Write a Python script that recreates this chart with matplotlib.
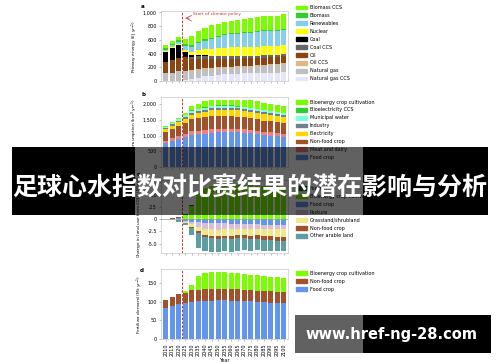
import numpy as np
import matplotlib
matplotlib.use("Agg")
from matplotlib import pyplot as plt
from matplotlib.patches import Rectangle, Patch
from matplotlib.ticker import FuncFormatter

years = list(range(2010, 2105, 5))

# -- panel a: primary energy (EJ/yr), bottom of stack first --
ng_ccs = [0, 0, 0, 10, 30, 50, 70, 80, 90, 95, 100, 105, 110, 110, 115, 115, 120, 120, 125]
natural_gas = [110, 120, 140, 130, 120, 110, 100, 95, 95, 95, 95, 95, 95, 100, 100, 110, 115, 120, 125]
oil_ccs = [0, 0, 0, 5, 10, 15, 15, 15, 15, 15, 15, 15, 15, 15, 15, 15, 15, 15, 15]
oil = [170, 190, 200, 200, 160, 150, 140, 130, 125, 120, 115, 110, 110, 105, 100, 100, 100, 95, 95]
coal_ccs = [0, 0, 0, 10, 30, 40, 45, 45, 45, 45, 45, 45, 40, 40, 40, 40, 35, 35, 35]
coal = [140, 170, 190, 70, 30, 10, 5, 0, 0, 0, 0, 0, 0, 0, 0, 0, 0, 0, 0]
nuclear = [15, 15, 15, 30, 40, 70, 90, 100, 110, 115, 120, 120, 125, 125, 125, 125, 125, 125, 125]
renewables = [20, 25, 30, 60, 80, 110, 120, 140, 160, 180, 190, 200, 205, 210, 215, 220, 225, 225, 230]
biomass = [20, 20, 25, 20, 20, 20, 20, 15, 15, 15, 15, 15, 15, 15, 15, 15, 15, 15, 15]
biomass_ccs = [50, 40, 40, 70, 140, 155, 165, 190, 170, 180, 180, 190, 195, 200, 205, 200, 195, 200, 210]

# -- panel b: water consumption (km3/yr) --
food_w = [750, 820, 880, 950, 1020, 1040, 1060, 1090, 1100, 1100, 1100, 1100, 1090, 1070, 1050, 1020, 1000, 980, 960]
meat_w = [90, 95, 100, 110, 120, 120, 120, 120, 120, 120, 120, 115, 115, 115, 110, 110, 110, 105, 105]
nonfood_w = [280, 310, 340, 350, 380, 390, 400, 410, 410, 400, 400, 390, 380, 370, 360, 350, 340, 340, 330]
electricity_w = [80, 90, 100, 120, 150, 170, 180, 190, 200, 200, 200, 200, 200, 200, 200, 200, 200, 200, 200]
industry_w = [50, 55, 60, 60, 60, 60, 60, 60, 60, 60, 60, 60, 60, 60, 60, 60, 60, 60, 60]
municipal_w = [40, 45, 50, 55, 60, 60, 60, 60, 60, 60, 60, 60, 60, 60, 60, 60, 60, 60, 60]
bioccs_w = [0, 0, 0, 10, 15, 20, 20, 20, 20, 20, 20, 20, 20, 20, 20, 20, 20, 20, 20]
bioenergy_w = [10, 10, 20, 60, 130, 150, 190, 170, 180, 190, 190, 205, 215, 235, 230, 220, 220, 225, 195]

# -- panel c: change in land use from 2010 --
food_l = [0, 0.1, 0.2, -0.4, -0.5, -0.6, -0.7, -0.7, -0.8, -0.8, -0.9, -0.9, -1.0, -1.0, -1.0, -1.1, -1.1, -1.2, -1.2]
pasture_l = [0, -0.05, -0.1, -0.1, -0.5, -1.0, -1.3, -1.4, -1.4, -1.3, -1.2, -1.1, -1.0, -1.0, -0.9, -0.9, -0.9, -0.9, -0.9]
grass_l = [0, -0.05, -0.1, -0.2, -0.6, -0.9, -1.2, -1.3, -1.3, -1.3, -1.3, -1.3, -1.3, -1.4, -1.4, -1.4, -1.5, -1.5, -1.5]
nonfood_l = [0, 0.15, 0.2, -0.1, -0.2, -0.3, -0.4, -0.5, -0.5, -0.5, -0.6, -0.6, -0.6, -0.7, -0.7, -0.8, -0.8, -0.9, -0.9]
other_l = [0, -0.1, -0.3, -0.4, -1.4, -3.0, -2.8, -2.7, -2.6, -2.6, -2.6, -2.5, -2.4, -2.3, -2.3, -2.2, -2.1, -2.0, -2.0]
bioenergy_l = [0, 0, 0, 0.9, 2.6, 5.3, 6.4, 6.8, 7.0, 7.0, 7.0, 7.0, 6.9, 6.9, 6.8, 6.8, 6.7, 6.7, 6.6]
forest_l = [0, 0, 0, 0.2, 0.3, 0.1, 0, 0, 0, 0, 0, 0, 0, 0, 0, 0, 0, 0, 0]

# -- panel d: fertilizer demand (Mt/yr) --
food_f = [83, 87.5, 94, 96, 100, 101, 102, 103, 104, 104, 103, 103, 102, 101, 100, 99, 98, 97, 96]
nonfood_f = [21, 24.5, 26, 27, 31, 31, 31, 31, 31, 31, 31, 30, 30, 30, 30, 30, 30, 30, 29]
bioenergy_f = [0, 0, 1, 6, 15, 38, 43, 46, 46, 45, 44, 43, 42, 42, 41, 40, 39, 39, 39]

FS = 3.5
YL = 3.1   # y label size, a bit smaller than ticks
x = np.arange(len(years))


def px_axes(fig, left, top, right, bottom):
    """ axes placed from pixel box of the 500x362 picture """
    return fig.add_axes([left / 500, 1 - bottom / 362, (right - left) / 500, (bottom - top) / 362])


def stack(ax, series, colors):
    pos = np.zeros(len(x))
    neg = np.zeros(len(x))
    for vals, c in zip(series, colors):
        vals = np.asarray(vals, dtype=float)
        base = np.where(vals >= 0, pos, neg)
        ax.bar(x, vals, bottom=base, width=0.78, color=c, linewidth=0)
        pos = pos + np.clip(vals, 0, None)
        neg = neg + np.clip(vals, None, 0)


def style(ax, ylim):
    ax.set_xlim(-0.72, 18.66)
    ax.set_ylim(*ylim)
    for s in ax.spines.values():
        s.set_color("#c8c8c8")
        s.set_linewidth(0.5)
    ax.tick_params(labelsize=FS, length=1.5, width=0.4, color="#888888", pad=1.5)
    ax.set_xticks(x)
    ax.set_xticklabels([])
    ax.axvline(2.5, color="#c0392b", lw=0.7, ls=(0, (2.5, 1.5)), zorder=4)


def legend(ax, labels, colors, ytop):
    handles = [Patch(color=c, label=l) for l, c in zip(labels, colors)][::-1]
    ax.legend(handles=handles, loc="upper left", bbox_to_anchor=(1.063, ytop), frameon=False,
              fontsize=FS, handlelength=2.26, handleheight=0.8, handletextpad=0.6,
              labelspacing=0.6, borderpad=0, borderaxespad=0)


comma = FuncFormatter(lambda v, p: f"{v:,.0f}")

fig = plt.figure(figsize=(5.0, 3.62), dpi=100)

# panel a
ax_a = px_axes(fig, 161, 11, 288, 81)
labels_a = ["Natural gas CCS", "Natural gas", "Oil CCS", "Oil", "Coal CCS", "Coal",
            "Nuclear", "Renewables", "Biomass", "Biomass CCS"]
colors_a = ["#e6e6fa", "#c0c0c0", "#deb887", "#8b4513", "#666666", "#000000",
            "#ffff00", "#87ceeb", "#33cc33", "#7cfc00"]
stack(ax_a, [ng_ccs, natural_gas, oil_ccs, oil, coal_ccs, coal, nuclear, renewables,
             biomass, biomass_ccs], colors_a)
style(ax_a, (0, 1020))
ax_a.set_yticks([0, 200, 400, 600, 800, 1000])
ax_a.yaxis.set_major_formatter(comma)
ax_a.set_ylabel("Primary energy (EJ yr$^{-1}$)", fontsize=YL, labelpad=2)
legend(ax_a, labels_a, colors_a, 1.085)
ax_a.annotate("", xy=(2.55, 915), xytext=(4.0, 915),
              arrowprops=dict(arrowstyle="->", color="#c0392b", lw=0.5))
ax_a.text(4.2, 975, "Start of climate policy", color="#c0392b", fontsize=3.2, va="center")

# panel b
ax_b = px_axes(fig, 161, 97, 288, 167)
labels_b = ["Food crop", "Meat and dairy", "Non-food crop", "Electricity", "Industry",
            "Municipal water", "Bioelectricity CCS", "Bioenergy crop cultivation"]
colors_b = ["#6495ed", "#f08080", "#a0522d", "#ffd700", "#708090", "#7fffd4", "#33cc33", "#7cfc00"]
stack(ax_b, [food_w, meat_w, nonfood_w, electricity_w, industry_w, municipal_w, bioccs_w,
             bioenergy_w], colors_b)
style(ax_b, (0, 2230))
ax_b.set_yticks([0, 500, 1000, 1500, 2000])
ax_b.yaxis.set_major_formatter(comma)
ax_b.set_ylabel("Water consumption (km$^3$ yr$^{-1}$)", fontsize=YL, labelpad=2)
legend(ax_b, labels_b, colors_b, 0.964)

# panel c
ax_c = px_axes(fig, 161, 180, 288, 253)
labels_c = ["Other arable land", "Non-food crop", "Grassland/shrubland", "Pasture", "Food crop",
            "Bioenergy crop cultivation", "Forest"]
colors_c = ["#5f9ea0", "#a0522d", "#f0e68c", "#d8bfd8", "#6495ed", "#7cfc00", "#1e6b1e"]
stack(ax_c, [food_l, pasture_l, grass_l, nonfood_l, other_l, bioenergy_l, forest_l],
      ["#6495ed", "#d8bfd8", "#f0e68c", "#a0522d", "#5f9ea0", "#7cfc00", "#1e6b1e"])
style(ax_c, (-6.9, 8.0))
ax_c.axhline(0, color="#999999", lw=0.5, zorder=3)
ax_c.set_yticks([-5.0, -2.5, 0, 2.5, 5.0, 7.5])
ax_c.yaxis.set_major_formatter(FuncFormatter(lambda v, p: "0" if v == 0 else f"{v:.1f}"))
ax_c.set_ylabel("Change in land use from 2010 (Mkm$^2$)", fontsize=YL, labelpad=2)
legend(ax_c, labels_c, colors_c, 0.918)

# panel d
ax_d = px_axes(fig, 161, 269, 288, 339)
labels_d = ["Food crop", "Non-food crop", "Bioenergy crop cultivation"]
colors_d = ["#6495ed", "#a0522d", "#7cfc00"]
stack(ax_d, [food_f, nonfood_f, bioenergy_f], colors_d)
style(ax_d, (0, 188))
ax_d.set_yticks([0, 50, 100, 150])
ax_d.set_xticklabels([str(y) for y in years], rotation=90)
ax_d.set_xlabel("Year", fontsize=FS, labelpad=2)
ax_d.set_ylabel("Fertilizer demand (Mt yr$^{-1}$)", fontsize=YL, labelpad=2)
legend(ax_d, labels_d, colors_d, 0.971)

for lab, xpx, ypx in [("a", 141, 6), ("b", 141, 95), ("c", 137, 174), ("d", 140, 271)]:
    fig.text(xpx / 500, 1 - ypx / 362, lab, fontsize=4, fontweight="bold", va="center")

# banner across the middle
def box(x0, x1, y0, y1, alpha):
    fig.add_artist(Rectangle((x0 / 500, 1 - y1 / 362), (x1 - x0) / 500, (y1 - y0) / 362,
                             transform=fig.transFigure, color="black", alpha=alpha, lw=0, zorder=5))

box(12, 135, 147, 215, 1.0)
box(135, 363, 147, 215, 0.62)
box(363, 488, 147, 215, 1.0)
fig.text(250 / 500, 1 - 188 / 362, "足球心水指数对比赛结果的潜在影响与分析", color="white",
         fontsize=18, fontweight="bold", family=["Noto Sans CJK SC", "DejaVu Sans"],
         ha="center", va="center", zorder=6)

# watermark
box(295, 363, 315, 353, 0.62)
box(363, 491, 315, 353, 1.0)
fig.text(391 / 500, 1 - 334 / 362, "www.href-ng-28.com", color="white", fontsize=10.5,
         fontweight="bold", ha="center", va="center", zorder=6)

fig.savefig("out.png", dpi=100)
